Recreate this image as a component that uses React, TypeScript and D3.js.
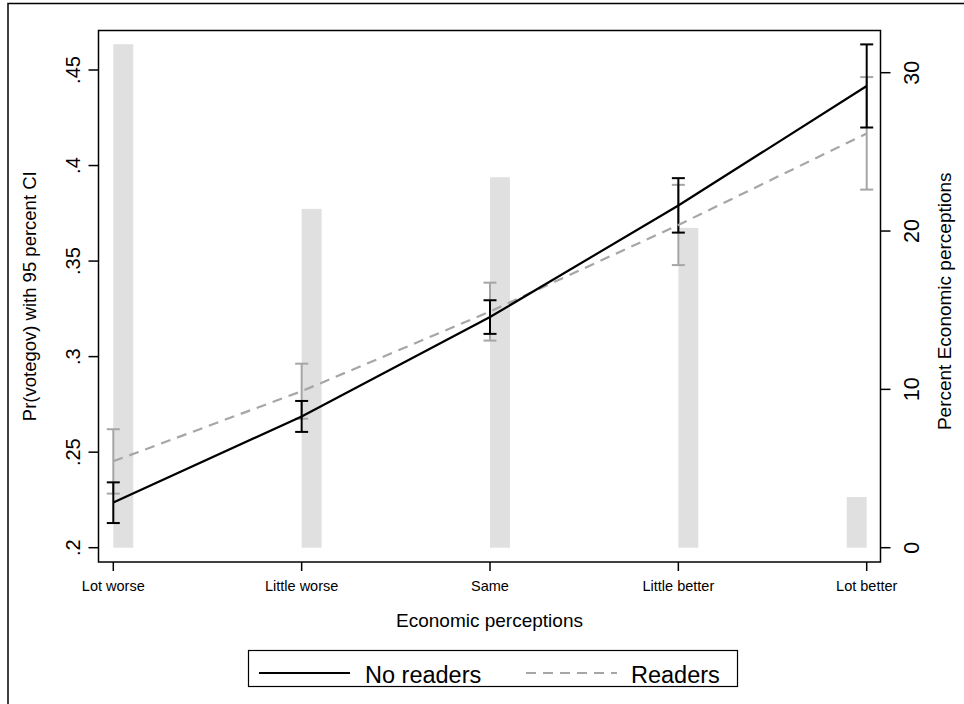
import * as d3 from "d3";

// economic perception categories (x = 1..5)
const categories = ["Lot worse", "Little worse", "Same", "Little better", "Lot better"];
const catValues = [1, 2, 3, 4, 5];

// predicted Pr(votegov), no readers
const noReaders = [0.2236, 0.2687, 0.3207, 0.3791, 0.4416];
const noReadersLo = [0.2129, 0.2606, 0.3119, 0.3649, 0.4199];
const noReadersHi = [0.2342, 0.2768, 0.3295, 0.3934, 0.4634];

// predicted Pr(votegov), readers
const readers = [0.2452, 0.2819, 0.3236, 0.3689, 0.4168];
const readersLo = [0.2283, 0.2675, 0.3084, 0.3479, 0.3874];
const readersHi = [0.262, 0.2963, 0.3387, 0.3899, 0.4463];

// histogram of economic perceptions (percent), bin centres on the x scale
const histX = [1.053, 2.053, 3.053, 4.053, 4.947];
const histPct = [31.8, 21.4, 23.4, 20.2, 3.2];
const histBarWidth = 0.106;

const leftTicks = [0.2, 0.25, 0.3, 0.35, 0.4, 0.45];
const leftTickLabels = [".2", ".25", ".3", ".35", ".4", ".45"];
const rightTicks = [0, 10, 20, 30];

const FONT = "'Liberation Sans', Arial, sans-serif";
const GRAY = "#a6a6a6";

export default function App() {
  const plot = { left: 98.5, right: 880.5, top: 30.5, bottom: 562 };

  const x = d3.scaleLinear().domain([1, 5]).range([113.3, 866.7]);
  const y = d3.scaleLinear().domain([0.2, 0.45]).range([547.7, 70]);
  const yPct = d3.scaleLinear().domain([0, 30]).range([547.7, 72.7]);

  const pts = (vals: number[]) => catValues.map((c, i) => [c, vals[i]] as [number, number]);
  const line = d3
    .line<[number, number]>()
    .x((d) => x(d[0]))
    .y((d) => y(d[1]));

  const capHalf = 6.5;
  const rcap = (lo: number[], hi: number[], color: string, key: string) =>
    catValues.map((c, i) => {
      const cx = x(c);
      return (
        <g key={key + i} stroke={color} strokeWidth={2}>
          <line x1={cx} x2={cx} y1={y(lo[i])} y2={y(hi[i])} />
          <line x1={cx - capHalf} x2={cx + capHalf} y1={y(lo[i])} y2={y(lo[i])} />
          <line x1={cx - capHalf} x2={cx + capHalf} y1={y(hi[i])} y2={y(hi[i])} />
        </g>
      );
    });

  const midY = (plot.top + plot.bottom) / 2;
  const barPx = x(1 + histBarWidth) - x(1);

  return (
    <svg
      width={964}
      height={704}
      style={{ position: "absolute", left: 0, top: 0, background: "#fff" }}
      fontFamily={FONT}
    >
      {/* outer frame */}
      <rect x={8} y={3.5} width={970} height={720} fill="none" stroke="#000" strokeWidth={1.5} />

      {/* histogram bars */}
      {histX.map((hx, i) => (
        <rect
          key={"bar" + i}
          x={x(hx) - barPx / 2}
          y={yPct(histPct[i])}
          width={barPx}
          height={yPct(0) - yPct(histPct[i])}
          fill="#e0e0e0"
        />
      ))}

      {/* confidence intervals */}
      {rcap(readersLo, readersHi, GRAY, "rc")}
      {rcap(noReadersLo, noReadersHi, "#000", "nc")}

      {/* lines */}
      <path d={line(pts(readers)) || ""} fill="none" stroke={GRAY} strokeWidth={2.2} strokeDasharray="10,7" />
      <path d={line(pts(noReaders)) || ""} fill="none" stroke="#000" strokeWidth={2.2} />

      {/* plot box */}
      <rect
        x={plot.left}
        y={plot.top}
        width={plot.right - plot.left}
        height={plot.bottom - plot.top}
        fill="none"
        stroke="#000"
        strokeWidth={1.5}
      />

      {/* left axis */}
      {leftTicks.map((t, i) => (
        <g key={"lt" + i}>
          <line x1={plot.left - 10} x2={plot.left} y1={y(t)} y2={y(t)} stroke="#000" strokeWidth={1.5} />
          <text
            transform={`translate(80,${y(t)}) rotate(-90)`}
            textAnchor="middle"
            fontSize={20}
          >
            {leftTickLabels[i]}
          </text>
        </g>
      ))}
      <text transform={`translate(36,${midY}) rotate(-90)`} textAnchor="middle" fontSize={18.5}>
        Pr(votegov) with 95 percent CI
      </text>

      {/* right axis */}
      {rightTicks.map((t, i) => (
        <g key={"rt" + i}>
          <line x1={plot.right} x2={plot.right + 10} y1={yPct(t)} y2={yPct(t)} stroke="#000" strokeWidth={1.5} />
          <text
            transform={`translate(918.5,${yPct(t)}) rotate(-90)`}
            textAnchor="middle"
            fontSize={21.5}
          >
            {t}
          </text>
        </g>
      ))}
      <text transform={`translate(951,${midY + 5}) rotate(-90)`} textAnchor="middle" fontSize={19}>
        Percent Economic perceptions
      </text>

      {/* bottom axis */}
      {catValues.map((c, i) => (
        <g key={"bt" + i}>
          <line x1={x(c)} x2={x(c)} y1={plot.bottom} y2={plot.bottom + 9} stroke="#000" strokeWidth={1.5} />
          <text x={x(c)} y={591} textAnchor="middle" fontSize={14.5}>
            {categories[i]}
          </text>
        </g>
      ))}
      <text x={(plot.left + plot.right) / 2} y={627} textAnchor="middle" fontSize={19}>
        Economic perceptions
      </text>

      {/* legend */}
      <rect x={248.5} y={650.5} width={489} height={36} fill="#fff" stroke="#000" strokeWidth={1.2} />
      <line x1={259} x2={350} y1={673} y2={673} stroke="#000" strokeWidth={2.2} />
      <text x={365} y={682.5} fontSize={23.5}>
        No readers
      </text>
      <line x1={526} x2={617} y1={673} y2={673} stroke={GRAY} strokeWidth={2.2} strokeDasharray="10,7" />
      <text x={631} y={682.5} fontSize={23.5}>
        Readers
      </text>
    </svg>
  );
}
